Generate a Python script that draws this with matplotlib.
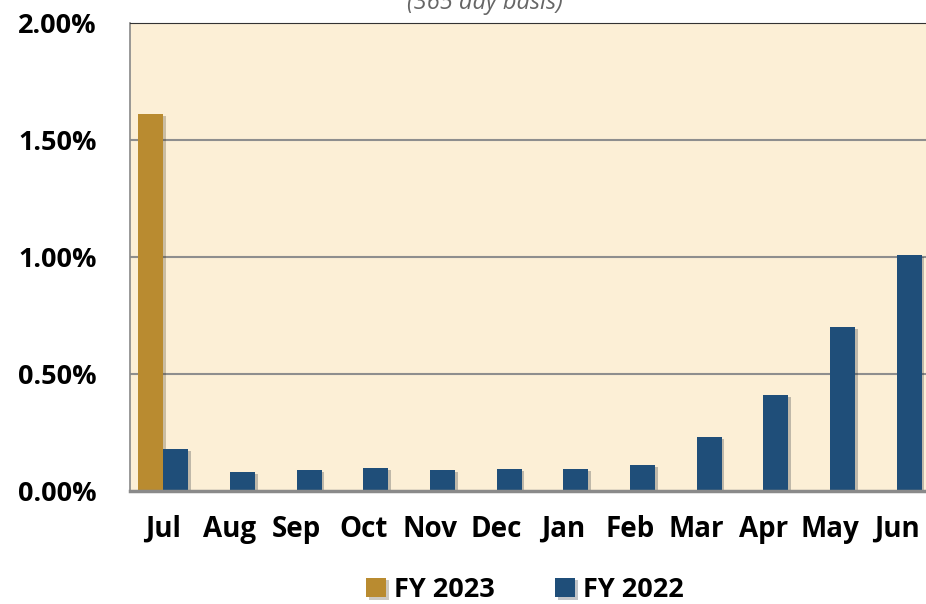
import matplotlib.pyplot as plt
import matplotlib.patheffects as pe
from matplotlib.ticker import FuncFormatter
import numpy as np

plt.rcParams['font.family'] = ['Open Sans', 'DejaVu Sans']

# Monthly yield, percent
months = ['Jul', 'Aug', 'Sep', 'Oct', 'Nov', 'Dec', 'Jan', 'Feb', 'Mar', 'Apr', 'May', 'Jun']
fy2023 = [1.61]
fy2022 = [0.18, 0.08, 0.09, 0.10, 0.09, 0.093, 0.094, 0.11, 0.23, 0.41, 0.70, 1.01]

gold = '#B98B30'
navy = '#1F4E79'

fig = plt.figure(figsize=(9.26, 6.04), dpi=100)
ax = fig.add_axes([130 / 926, 1 - 491 / 604, 800 / 926, 468 / 604])
ax.set_facecolor('#FCEFD6')

x = np.arange(len(months))
w = 0.375
shadow = [pe.SimplePatchShadow(offset=(2, -1.5), alpha=0.25), pe.Normal()]
b1 = ax.bar(x[:len(fy2023)] - w / 2, fy2023, w, color=gold, zorder=3, label='FY 2023')
b2 = ax.bar(x + w / 2, fy2022, w, color=navy, zorder=3, label='FY 2022')
for b in list(b1) + list(b2):
    b.set_path_effects(shadow)

ax.set_xlim(-0.5, len(months) - 0.5)
ax.set_ylim(0, 2.0)
ax.set_yticks([0, 0.5, 1.0, 1.5, 2.0])
ax.yaxis.set_major_formatter(FuncFormatter(lambda v, _: f'{v:.2f}%'))
ax.set_xticks(x)
ax.set_xticklabels(months)
ax.tick_params(axis='y', length=0, pad=24, labelsize=19.5)
ax.tick_params(axis='x', length=0, pad=17, labelsize=20)
for lbl in ax.get_xticklabels() + ax.get_yticklabels():
    lbl.set_fontweight('bold')

for v in [0.5, 1.0, 1.5]:
    ax.axhline(v, color='#8E8E8E', lw=1.5, zorder=1)

ax.spines['top'].set_linestyle((0, (1, 1)))
ax.spines['top'].set_color('#333333')
ax.spines['right'].set_visible(False)
ax.spines['left'].set_color('#888888')
ax.spines['left'].set_linewidth(1.2)
ax.spines['bottom'].set_color('#8A8A8A')
ax.spines['bottom'].set_linewidth(2.5)
ax.spines['bottom'].set_zorder(4)

fig.text(485 / 926, 1 - 9 / 604, '(365 day basis)', ha='center', va='baseline',
         fontsize=17, style='italic', color='#666666')

fig.legend(handles=[b1, b2], loc='center', bbox_to_anchor=(525 / 926, 1 - 590 / 604),
           ncol=2, frameon=False, handlelength=0.75, handleheight=0.75,
           handletextpad=0.3, columnspacing=2.2, prop={'weight': 'bold', 'size': 19.5})

fig.savefig('out.png', dpi=100)
